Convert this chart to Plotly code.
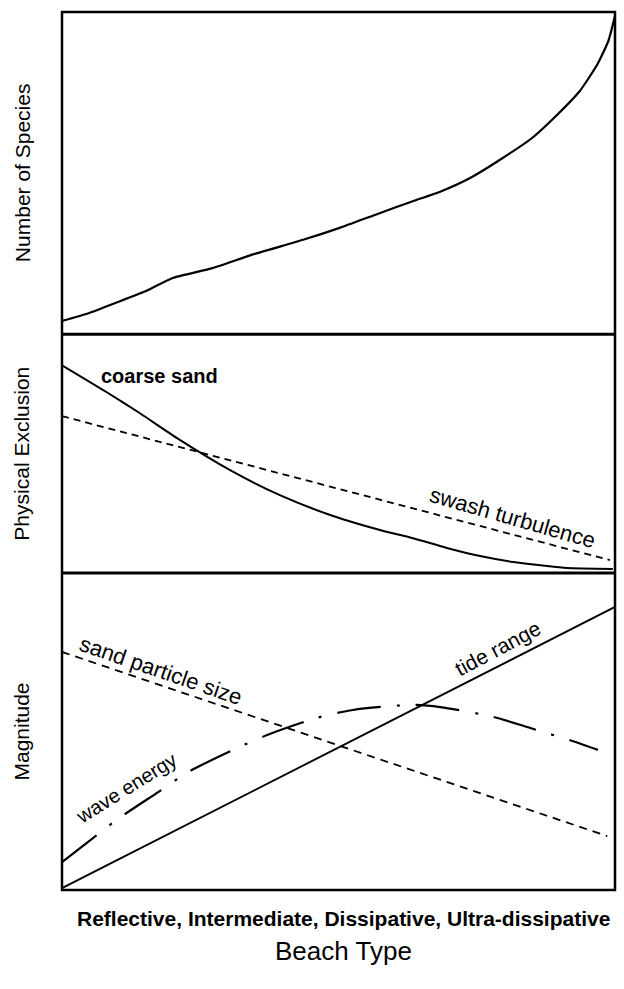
import plotly.graph_objects as go

# Beach type runs from reflective (0) to ultra-dissipative (1); all magnitudes are relative (0-1).

# Panel 1: number of species
species_x = [0, 0.048, 0.107, 0.153, 0.199, 0.272, 0.344, 0.436, 0.502, 0.567,
             0.633, 0.686, 0.738, 0.797, 0.850, 0.896, 0.936, 0.968, 0.988, 1.0]
species_y = [0.041, 0.065, 0.104, 0.135, 0.174, 0.205, 0.247, 0.293, 0.330, 0.371,
             0.412, 0.444, 0.485, 0.547, 0.609, 0.682, 0.754, 0.837, 0.910, 0.988]

# Panel 2: physical exclusion
coarse_x = [0, 0.081, 0.141, 0.208, 0.304, 0.394, 0.485, 0.575, 0.635, 0.696,
            0.756, 0.816, 0.877, 0.913, 0.996]
coarse_y = [0.870, 0.757, 0.669, 0.565, 0.431, 0.326, 0.243, 0.180, 0.146, 0.105,
            0.071, 0.046, 0.029, 0.021, 0.017]
swash_x = [0, 0.991]
swash_y = [0.657, 0.054]

# Panel 3: magnitude
tide_x = [0, 1.0]
tide_y = [0.006, 0.893]
sand_x = [0, 0.986]
sand_y = [0.751, 0.170]
wave_x = [0, 0.056, 0.101, 0.174, 0.228, 0.313, 0.371, 0.461, 0.526, 0.635,
          0.684, 0.780, 0.847, 0.934, 0.969]
wave_y = [0.088, 0.164, 0.224, 0.309, 0.372, 0.445, 0.489, 0.543, 0.568, 0.584,
          0.577, 0.546, 0.511, 0.464, 0.442]

panel_titles = ["Number of Species", "Physical Exclusion", "Magnitude"]
category_label = "Reflective, Intermediate, Dissipative, Ultra-dissipative"
axis_title = "Beach Type"

FONT = "Liberation Sans, Arial, Helvetica, sans-serif"
INK = "#000000"

fig = go.Figure()

fig.add_trace(go.Scatter(x=species_x, y=species_y, mode="lines", xaxis="x", yaxis="y",
                         line=dict(color=INK, width=2.2, shape="spline", smoothing=0.5)))

fig.add_trace(go.Scatter(x=coarse_x, y=coarse_y, mode="lines", xaxis="x2", yaxis="y2",
                         line=dict(color=INK, width=2.0, shape="spline", smoothing=0.6)))
fig.add_trace(go.Scatter(x=swash_x, y=swash_y, mode="lines", xaxis="x2", yaxis="y2",
                         line=dict(color=INK, width=1.8, dash="7px,5px")))

fig.add_trace(go.Scatter(x=tide_x, y=tide_y, mode="lines", xaxis="x3", yaxis="y3",
                         line=dict(color=INK, width=1.9)))
fig.add_trace(go.Scatter(x=sand_x, y=sand_y, mode="lines", xaxis="x3", yaxis="y3",
                         line=dict(color=INK, width=1.8, dash="8px,6px")))
fig.add_trace(go.Scatter(x=wave_x, y=wave_y, mode="lines", xaxis="x3", yaxis="y3",
                         line=dict(color=INK, width=2.2, shape="spline", smoothing=0.7,
                                   dash="44px,16px,3px,16px")))

domains = {"": [0.633, 1.0], "2": [0.361, 0.633], "3": [0.0, 0.361]}
axis_common = dict(range=[0, 1], showgrid=False, zeroline=False, showticklabels=False,
                   ticks="", showline=False, fixedrange=True)
layout_axes = {}
for suffix, dom in domains.items():
    layout_axes["xaxis" + suffix] = dict(axis_common, anchor="y" + suffix, domain=[0, 1])
    layout_axes["yaxis" + suffix] = dict(axis_common, anchor="x" + suffix, domain=dom)

# frame around the three stacked panels, with heavier dividers between them
shapes = [dict(type="rect", xref="paper", yref="paper", x0=0, x1=1, y0=0, y1=1,
               line=dict(color=INK, width=2.5), layer="above")]
for y_div in (domains["2"][0], domains["2"][1]):
    shapes.append(dict(type="line", xref="paper", yref="paper", x0=0, x1=1, y0=y_div, y1=y_div,
                       line=dict(color=INK, width=3), layer="above"))

annotations = []
# panel titles on the left, centred on each panel
for title, (lo, hi) in zip(panel_titles, domains.values()):
    annotations.append(dict(xref="paper", yref="paper", x=-0.0723, y=(lo + hi) / 2,
                            text=title, showarrow=False, textangle=-90,
                            xanchor="center", yanchor="middle",
                            font=dict(family=FONT, size=21, color=INK)))

curve_labels = [
    dict(xref="x2", yref="y2", x=0.177, y=0.824, text="<b>coarse sand</b>", textangle=0, size=20),
    dict(xref="x2", yref="y2", x=0.814, y=0.234, text="swash turbulence", textangle=16, size=22),
    dict(xref="x3", yref="y3", x=0.179, y=0.694, text="sand particle size", textangle=19, size=22),
    dict(xref="x3", yref="y3", x=0.116, y=0.322, text="wave energy", textangle=-32, size=20),
    dict(xref="x3", yref="y3", x=0.787, y=0.763, text="tide range", textangle=-28, size=21),
]
for lab in curve_labels:
    annotations.append(dict(xref=lab["xref"], yref=lab["yref"], x=lab["x"], y=lab["y"],
                            text=lab["text"], textangle=lab["textangle"], showarrow=False,
                            xanchor="center", yanchor="middle",
                            font=dict(family=FONT, size=lab["size"], color=INK)))

annotations.append(dict(xref="paper", yref="paper", x=0.509, y=-0.032, text="<b>" + category_label + "</b>",
                        showarrow=False, xanchor="center", yanchor="middle",
                        font=dict(family=FONT, size=21, color=INK)))
annotations.append(dict(xref="paper", yref="paper", x=0.509, y=-0.069, text=axis_title,
                        showarrow=False, xanchor="center", yanchor="middle",
                        font=dict(family=FONT, size=26, color=INK)))

fig.update_layout(
    width=624, height=989,
    margin=dict(l=62, r=9, t=12, b=99),
    paper_bgcolor="white", plot_bgcolor="white",
    showlegend=False,
    annotations=annotations,
    shapes=shapes,
    **layout_axes,
)

fig.write_html("out.html", config={"displayModeBar": False})
